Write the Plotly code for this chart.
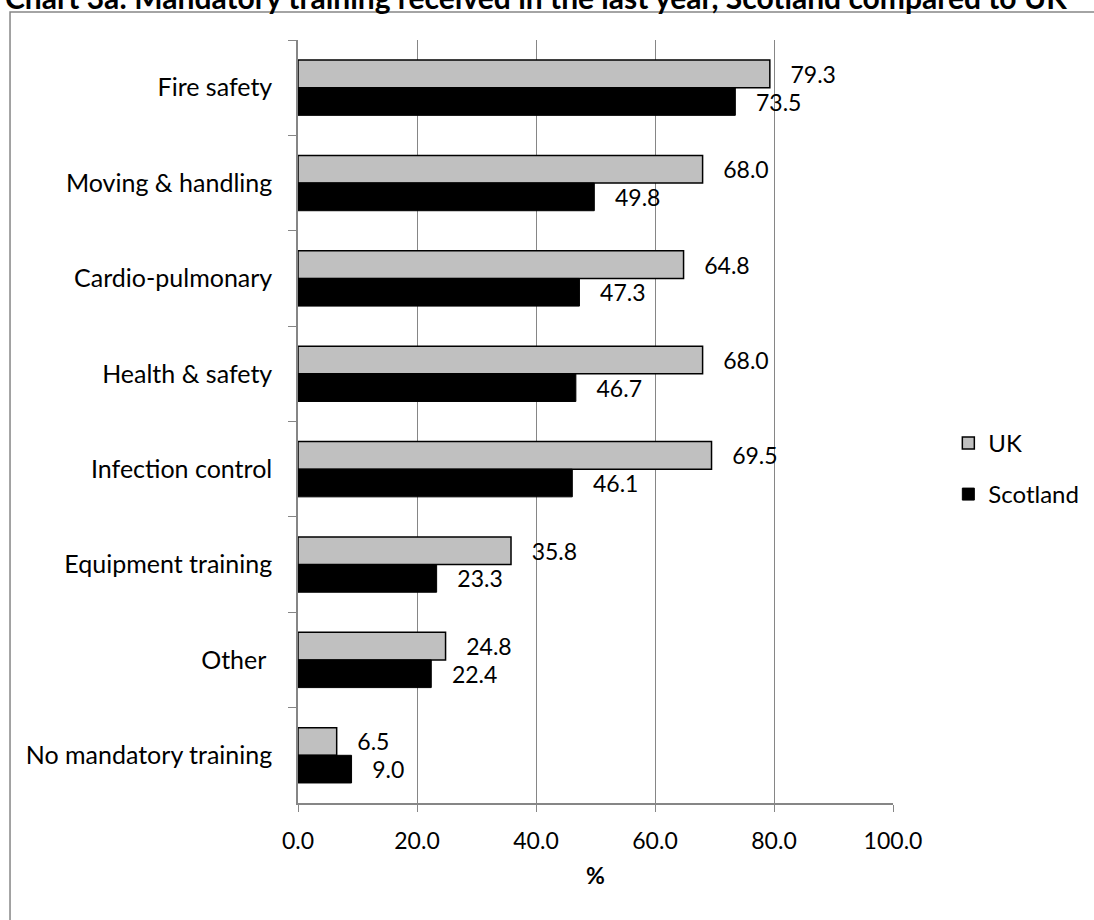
import plotly.graph_objects as go

# Mandatory training categories (top to bottom) and percentages per region
categories = [
    "Fire safety",
    "Moving & handling",
    "Cardio-pulmonary",
    "Health & safety",
    "Infection control",
    "Equipment training",
    "Other\u00a0",
    "No mandatory training",
]
uk_values = [79.3, 68.0, 64.8, 68.0, 69.5, 35.8, 24.8, 6.5]
scotland_values = [73.5, 49.8, 47.3, 46.7, 46.1, 23.3, 22.4, 9.0]
x_ticks = [0, 20, 40, 60, 80, 100]

FONT = "Lato, 'Open Sans', sans-serif"
GRID = "#868686"
LABEL_PAD = "\u00a0\u00a0\u00a0"

fig = go.Figure()
fig.add_trace(go.Bar(
    name="UK", y=categories, x=uk_values, orientation="h",
    marker=dict(color="#C0C0C0", line=dict(color="#000000", width=1.5)),
    text=[LABEL_PAD + f"{v:.1f}" for v in uk_values],
    textposition="outside", cliponaxis=False, constraintext="none",
    textfont=dict(family=FONT, size=23, color="#000000"),
    legendgroup="uk",
))
fig.add_trace(go.Bar(
    name="Scotland", y=categories, x=scotland_values, orientation="h",
    marker=dict(color="#000000", line=dict(color="#000000", width=1)),
    text=[LABEL_PAD + f"{v:.1f}" for v in scotland_values],
    textposition="outside", cliponaxis=False, constraintext="none",
    textfont=dict(family=FONT, size=23, color="#000000"),
    legendgroup="scotland",
))

# Outer chart frame
fig.add_shape(type="rect", xref="paper", yref="paper",
              x0=-0.484, x1=1.36, y0=-0.2, y1=1.0367,
              line=dict(color=GRID, width=1.5), fillcolor="rgba(0,0,0,0)",
              layer="below")

fig.add_annotation(
    text="<b>Chart 3a: Mandatory training received in the last year, Scotland compared to UK</b>",
    xref="paper", yref="paper", x=0.4, y=1.0305, xanchor="center", yanchor="bottom",
    showarrow=False, font=dict(family=FONT, size=30, color="#000000"),
)

fig.update_layout(
    width=1094, height=920,
    margin=dict(l=298, r=201, t=40, b=117, autoexpand=False),
    paper_bgcolor="white", plot_bgcolor="white",
    barmode="group", bargap=0.42, bargroupgap=0,
    font=dict(family=FONT, size=23, color="#000000"),
    showlegend=True,
    legend=dict(x=1.093, y=0.438, xanchor="left", yanchor="middle",
                tracegroupgap=17, traceorder="grouped",
                font=dict(family=FONT, size=24, color="#000000"),
                bgcolor="rgba(0,0,0,0)"),
    xaxis=dict(range=[0, 100], tickvals=x_ticks, tickformat=".1f",
               showgrid=True, gridcolor=GRID, gridwidth=1.3,
               showline=True, linecolor=GRID, linewidth=1.5,
               ticks="outside", ticklen=7, tickcolor=GRID, tickwidth=1.3,
               zeroline=False, ticklabelstandoff=10,
               title=dict(text="<b>%</b>", font=dict(family=FONT, size=23), standoff=15)),
    yaxis=dict(autorange="reversed", type="category",
               showline=True, linecolor=GRID, linewidth=1.5,
               ticks="outside", ticklen=8, tickcolor=GRID, tickwidth=1.3,
               tickson="boundaries", showgrid=False, ticklabelstandoff=19,
               tickfont=dict(family=FONT, size=25)),
)

fig.write_html("out.html")
